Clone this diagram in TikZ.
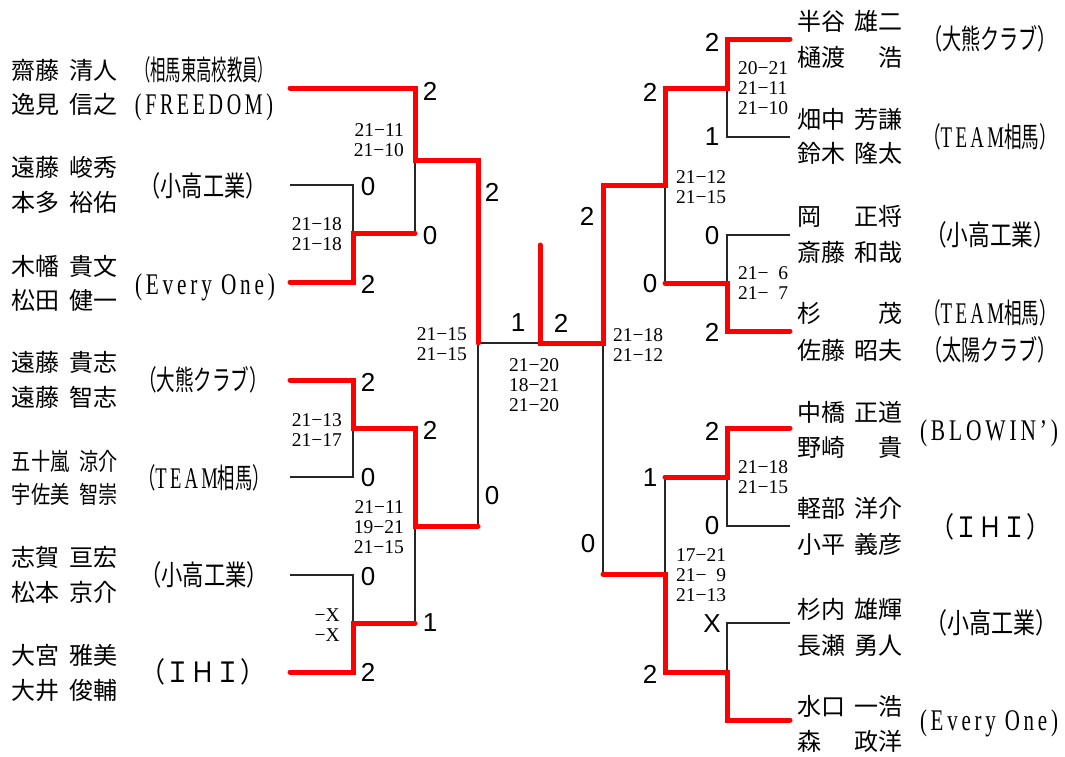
\documentclass[tikz,border=0pt]{standalone}
\usepackage{fontspec}
\usepackage{graphicx}
\setmainfont{Liberation Serif}
\newfontfamily\jp{Noto Sans CJK JP}
\newfontfamily\scorefont{Liberation Sans}
\newfontfamily\widefont[LetterSpace=18]{Liberation Serif}
\newcommand\lat[1]{{\widefont\fontsize{30}{30}\selectfont #1}}
\newcommand\pname[2]{\makebox[106pt]{#1\hfill #2}}
\newcommand\fitw[2]{\resizebox{#1}{\height}{#2}}
\newcommand\narrow[1]{\scalebox{0.8}[1]{#1}}

\begin{document}
\begin{tikzpicture}[x=1pt,y=-1pt]
  \tikzstyle{win}=[red, line width=5pt, line cap=round]
  \tikzstyle{lose}=[black!85, line width=1.1pt]
  \tikzstyle{player}=[inner sep=0, font=\jp\fontsize{24}{24}\selectfont, text height=21pt, text depth=3pt]
  \tikzstyle{team}=[inner sep=0, font=\jp\fontsize{28}{28}\selectfont, text height=24.5pt, text depth=3.5pt]
  \tikzstyle{pts}=[inner sep=0, font=\scorefont\fontsize{26}{26}\selectfont]
  \tikzstyle{gamesL}=[inner sep=0, anchor=east, font=\fontsize{19.5}{20}\selectfont, align=right]
  \tikzstyle{gamesR}=[inner sep=0, anchor=west, font=\fontsize{19.5}{20}\selectfont, align=left]

  \useasboundingbox (0,0) rectangle (1065,756);

  % Left players
  \node[player] (l1a) at (65,70) {\pname{齋藤}{清人}};
  \node[player] (l1b) at (65,104) {\pname{逸見}{信之}};
  \node[player] (l2a) at (65,167) {\pname{遠藤}{峻秀}};
  \node[player] (l2b) at (65,202) {\pname{本多}{裕佑}};
  \node[player] (l3a) at (65,266) {\pname{木幡}{貴文}};
  \node[player] (l3b) at (65,300) {\pname{松田}{健一}};
  \node[player] (l4a) at (65,362) {\pname{遠藤}{貴志}};
  \node[player] (l4b) at (65,397) {\pname{遠藤}{智志}};
  \node[player] (l5a) at (65,461) {\pname{\narrow{五十嵐}}{\narrow{涼介}}};
  \node[player] (l5b) at (65,494) {\pname{\narrow{宇佐美}}{\narrow{智崇}}};
  \node[player] (l6a) at (65,557) {\pname{志賀}{亘宏}};
  \node[player] (l6b) at (65,592) {\pname{松本}{京介}};
  \node[player] (l7a) at (65,655) {\pname{大宮}{雅美}};
  \node[player] (l7b) at (65,690) {\pname{大井}{俊輔}};

  % Left teams
  \node[team] (lt1a) at (204,70) {\fitw{138pt}{（相馬東高校教員）}};
  \node[team] (lt1b) at (204,104) {\fitw{138pt}{\lat{(FREEDOM)}}};
  \node[team] (lt2) at (203,186) {\fitw{127pt}{（小高工業）}};
  \node[team] (lt3) at (205,284) {\fitw{140pt}{\lat{(Every One)}}};
  \node[team] (lt4) at (203,380) {\fitw{130pt}{（大熊クラブ）}};
  \node[team] (lt5) at (204,478) {\fitw{132pt}{（\lat{TEAM}相馬）}};
  \node[team] (lt6) at (204,575) {\fitw{128pt}{（小高工業）}};
  \node[team] (lt7) at (203,672) {\fitw{125pt}{（ＩＨＩ）}};

  % Right players
  \node[player] (r1a) at (850,21) {\pname{半谷}{雄二}};
  \node[player] (r1b) at (850,57) {\pname{樋渡}{浩}};
  \node[player] (r2a) at (850,119) {\pname{畑中}{芳謙}};
  \node[player] (r2b) at (850,153) {\pname{鈴木}{隆太}};
  \node[player] (r3a) at (850,216) {\pname{岡}{正将}};
  \node[player] (r3b) at (850,252) {\pname{斎藤}{和哉}};
  \node[player] (r4a) at (850,313) {\pname{杉}{茂}};
  \node[player] (r4b) at (850,350) {\pname{佐藤}{昭夫}};
  \node[player] (r5a) at (850,412) {\pname{中橋}{正道}};
  \node[player] (r5b) at (850,447) {\pname{野崎}{貴}};
  \node[player] (r6a) at (850,508) {\pname{軽部}{洋介}};
  \node[player] (r6b) at (850,544) {\pname{小平}{義彦}};
  \node[player] (r7a) at (850,609) {\pname{杉内}{雄輝}};
  \node[player] (r7b) at (850,645) {\pname{長瀬}{勇人}};
  \node[player] (r8a) at (850,706) {\pname{水口}{一浩}};
  \node[player] (r8b) at (850,741) {\pname{森}{政洋}};

  % Right teams
  \node[team] (rt1) at (990,39) {\fitw{134pt}{（大熊クラブ）}};
  \node[team] (rt2) at (990,137) {\fitw{134pt}{（\lat{TEAM}相馬）}};
  \node[team] (rt3) at (990,235) {\fitw{130pt}{（小高工業）}};
  \node[team] (rt4a) at (990,313) {\fitw{134pt}{（\lat{TEAM}相馬）}};
  \node[team] (rt4b) at (990,350) {\fitw{134pt}{（太陽クラブ）}};
  \node[team] (rt5) at (989,430) {\fitw{138pt}{\lat{(BLOWIN’)}}};
  \node[team] (rt6) at (990,527) {\fitw{120pt}{（ＩＨＩ）}};
  \node[team] (rt7) at (991,623) {\fitw{132pt}{（小高工業）}};
  \node[team] (rt8) at (989,720) {\fitw{138pt}{\lat{(Every One)}}};

  % Losing lines
  \draw[lose] (290,185) -- (353,185) -- (353,233);
  \draw[lose] (415,160) -- (415,233);
  \draw[lose] (290,477) -- (353,477) -- (353,428);
  \draw[lose] (415,526) -- (415,623);
  \draw[lose] (290,575) -- (353,575) -- (353,623);
  \draw[lose] (478,526) -- (478,343) -- (540,343);
  \draw[lose] (790,137) -- (727,137) -- (727,88);
  \draw[lose] (665,185) -- (665,283);
  \draw[lose] (790,235) -- (727,235) -- (727,283);
  \draw[lose] (603,343) -- (603,574);
  \draw[lose] (665,477) -- (665,574);
  \draw[lose] (790,526) -- (727,526) -- (727,477);
  \draw[lose] (790,623) -- (727,623) -- (727,672);

  % Winning lines
  \draw[win] (290,88) -- (415,88) -- (415,160) -- (478,160) -- (478,343);
  \draw[win] (290,282) -- (353,282) -- (353,233) -- (415,233);
  \draw[win] (290,380) -- (353,380) -- (353,428) -- (415,428) -- (415,526) -- (478,526);
  \draw[win] (290,672) -- (353,672) -- (353,623) -- (415,623);
  \draw[win] (540,245) -- (540,343) -- (603,343) -- (603,185) -- (665,185) -- (665,88) -- (727,88) -- (727,39) -- (790,39);
  \draw[win] (790,331) -- (727,331) -- (727,283) -- (665,283);
  \draw[win] (790,428) -- (727,428) -- (727,477) -- (665,477);
  \draw[win] (790,720) -- (727,720) -- (727,672) -- (665,672) -- (665,574) -- (603,574);

  % Match points, left
  \node[pts] (p1) at (430,91) {2};
  \node[pts] (p2) at (368,187) {0};
  \node[pts] (p3) at (430,236) {0};
  \node[pts] (p4) at (368,284) {2};
  \node[pts] (p5) at (492,192) {2};
  \node[pts] (p6) at (368,382) {2};
  \node[pts] (p7) at (430,430) {2};
  \node[pts] (p8) at (368,478) {0};
  \node[pts] (p9) at (492,496) {0};
  \node[pts] (p10) at (368,577) {0};
  \node[pts] (p11) at (430,623) {1};
  \node[pts] (p12) at (368,672) {2};

  % Final
  \node[pts] (pf1) at (518,323) {1};
  \node[pts] (pf2) at (561,323) {2};

  % Match points, right
  \node[pts] (q1) at (712,42) {2};
  \node[pts] (q2) at (650,92) {2};
  \node[pts] (q3) at (712,137) {1};
  \node[pts] (q4) at (587,216) {2};
  \node[pts] (q5) at (712,236) {0};
  \node[pts] (q6) at (650,284) {0};
  \node[pts] (q7) at (712,332) {2};
  \node[pts] (q8) at (712,431) {2};
  \node[pts] (q9) at (650,478) {1};
  \node[pts] (q10) at (712,526) {0};
  \node[pts] (q11) at (588,544) {0};
  \node[pts] (q12) at (712,624) {X};
  \node[pts] (q13) at (650,674) {2};

  % Game scores
  \node[gamesL] (g1) at (404,140) {21−11\\21−10};
  \node[gamesL] (g2) at (342,234) {21−18\\21−18};
  \node[gamesL] (g3) at (467,344) {21−15\\21−15};
  \node[gamesL] (g4) at (342,430) {21−13\\21−17};
  \node[gamesL] (g5) at (404,527) {21−11\\19−21\\21−15};
  \node[gamesL] (g6) at (340,625) {−X\\−X};
  \node[gamesL, anchor=center, align=center] (gf) at (534,385) {21−20\\18−21\\21−20};
  \node[gamesR] (h1) at (738,88) {20−21\\21−11\\21−10};
  \node[gamesR] (h2) at (676,187) {21−12\\21−15};
  \node[gamesR] (h3) at (738,283) {21−\phantom{0}6\\21−\phantom{0}7};
  \node[gamesR] (h4) at (613,345) {21−18\\21−12};
  \node[gamesR] (h5) at (738,477) {21−18\\21−15};
  \node[gamesR] (h6) at (676,575) {17−21\\21−\phantom{0}9\\21−13};
\end{tikzpicture}
\end{document}
